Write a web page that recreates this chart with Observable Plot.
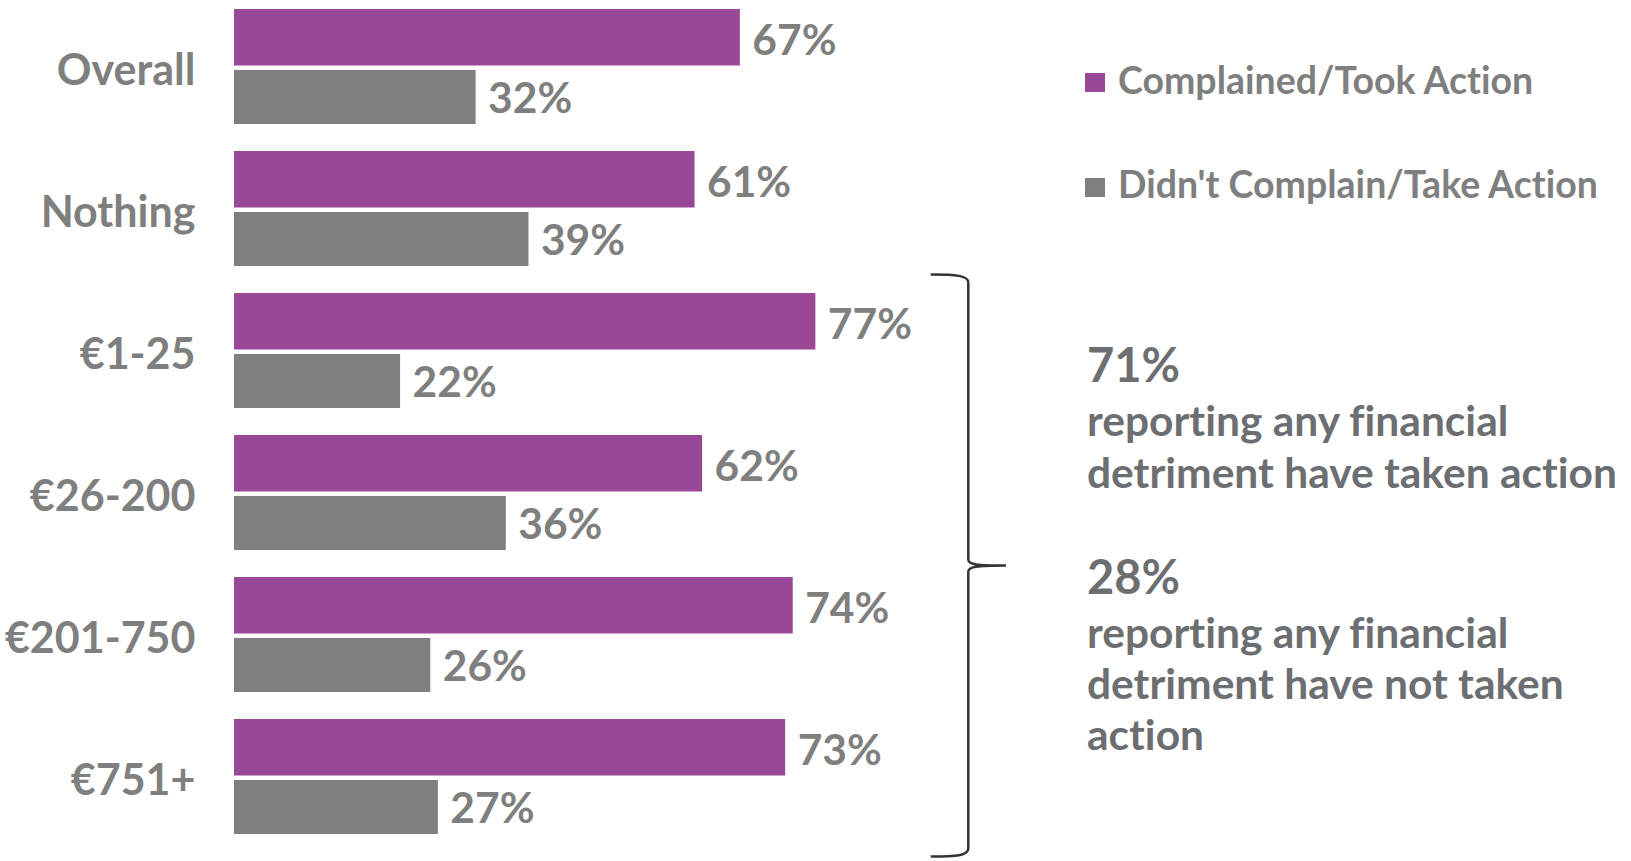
<!DOCTYPE html>
<html>
<head>
<meta charset="utf-8">
<script src="https://cdn.jsdelivr.net/npm/d3@7"></script>
<script src="https://cdn.jsdelivr.net/npm/@observablehq/plot@0.6"></script>
<style>
  html, body { margin: 0; padding: 0; background: #fff; }
  #wrap { position: relative; width: 1631px; height: 861px; font-family: Lato, "Noto Sans", sans-serif; font-weight: 700; font-variant-ligatures: none; }
  #wrap svg { position: absolute; left: 0; top: 0; }
  .leg { position: absolute; left: 1085px; font-size: 37.5px; line-height: 45px; color: #7f7f7f; white-space: nowrap; }
  .leg .sw { position: absolute; left: 0; width: 20px; height: 19px; }
  .leg span.t { position: absolute; left: 33px; top: 0; }
  .big { position: absolute; left: 1087px; font-size: 47px; line-height: 56.4px; color: #6d6e71; white-space: nowrap; }
  .para { position: absolute; left: 1087px; font-size: 42.5px; color: #6d6e71; white-space: nowrap; }
</style>
</head>
<body>
<div id="wrap"></div>
<script>
// ---- data ----
const categories = ["Overall", "Nothing", "€1-25", "€26-200", "€201-750", "€751+"];
const complained = [67, 61, 77, 62, 74, 73];
const notComplained = [32, 39, 22, 36, 26, 27];
const seriesNames = ["Complained/Took Action", "Didn't Complain/Take Action"];
const seriesColors = ["#984896", "#7f7f7f"];
const summaryValues = ["71%", "28%"];
const summaryTexts = [
  ["reporting any financial", "detriment have taken action"],
  ["reporting any financial", "detriment have not taken", "action"]
];

const rowsA = categories.map((c, i) => ({category: c, value: complained[i]}));
const rowsB = categories.map((c, i) => ({category: c, value: notComplained[i]}));

const labelColor = "#7f7f7f";

// custom bracket mark spanning the amount categories
function bracket(index, scales) {
  const y = scales.y;
  const bw = y.bandwidth();
  const top = y("€1-25") - 18.5;
  const bot = y("€751+") + bw + 22.6;
  const mid = (top + bot) / 2;
  const xa = 930.7, xv = 968.3, xt = 1006;
  const d = `M${xa},${top} C${xv - 12},${top} ${xv},${top + 1} ${xv},${top + 8}
    L${xv},${mid - 6} C${xv},${mid - 1} ${xv + 8},${mid} ${xt},${mid}
    C${xv + 8},${mid} ${xv},${mid + 1} ${xv},${mid + 6}
    L${xv},${bot - 8} C${xv},${bot - 1} ${xv - 12},${bot} ${xa},${bot}`;
  const p = document.createElementNS("http://www.w3.org/2000/svg", "path");
  p.setAttribute("d", d);
  p.setAttribute("fill", "none");
  p.setAttribute("stroke", "#333");
  p.setAttribute("stroke-width", "2.5");
  return p;
}

const chart = Plot.plot({
  width: 1631,
  height: 861,
  margin: 0,
  style: {fontFamily: "Lato, 'Noto Sans', sans-serif", background: "transparent", fontVariantLigatures: "none"},
  x: {domain: [0, 100], range: [234, 989], axis: null},
  y: {domain: categories, range: [7.3, 836.7], paddingInner: 0.187, paddingOuter: 0, axis: null},
  marks: [
    Plot.barX(rowsA, {x: "value", y: "category", fill: seriesColors[0], insetBottom: 58.5}),
    Plot.barX(rowsB, {x: "value", y: "category", fill: seriesColors[1], insetTop: 61}),
    Plot.text(rowsA, {x: "value", y: "category", text: d => d.value + "%", dx: 12, dy: -26,
      textAnchor: "start", fontSize: 42.5, fontWeight: 700, fill: labelColor}),
    Plot.text(rowsB, {x: "value", y: "category", text: d => d.value + "%", dx: 12, dy: 32,
      textAnchor: "start", fontSize: 42.5, fontWeight: 700, fill: labelColor}),
    Plot.text(categories, {y: d => d, text: d => d, frameAnchor: "left", dx: 195, dy: 4,
      textAnchor: "end", fontSize: 43, fontWeight: 700, fill: labelColor}),
    bracket
  ]
});

const wrap = document.getElementById("wrap");
wrap.appendChild(chart);

// legend (baselines ~94 and ~198)
const legTops = [94 - 0.987 * 37.5, 198 - 0.987 * 37.5];
const swTops = [73, 178];
seriesNames.forEach((name, i) => {
  const d = document.createElement("div");
  d.className = "leg";
  d.style.top = legTops[i] + "px";
  const sw = document.createElement("div");
  sw.className = "sw";
  sw.style.background = seriesColors[i];
  sw.style.top = (swTops[i] - legTops[i]) + "px";
  const t = document.createElement("span");
  t.className = "t";
  t.textContent = name;
  d.appendChild(sw);
  d.appendChild(t);
  wrap.appendChild(d);
});

// summary annotations
const bigTops = [336, 547.6];
const paraTops = [393.5, 605.6];
const paraLH = [52, 51];
summaryValues.forEach((v, i) => {
  const b = document.createElement("div");
  b.className = "big";
  b.style.top = bigTops[i] + "px";
  b.textContent = v;
  wrap.appendChild(b);
  const p = document.createElement("div");
  p.className = "para";
  p.style.top = paraTops[i] + "px";
  p.style.lineHeight = paraLH[i] + "px";
  summaryTexts[i].forEach((line, j) => {
    if (j) p.appendChild(document.createElement("br"));
    p.appendChild(document.createTextNode(line));
  });
  wrap.appendChild(p);
});
</script>
</body>
</html>
